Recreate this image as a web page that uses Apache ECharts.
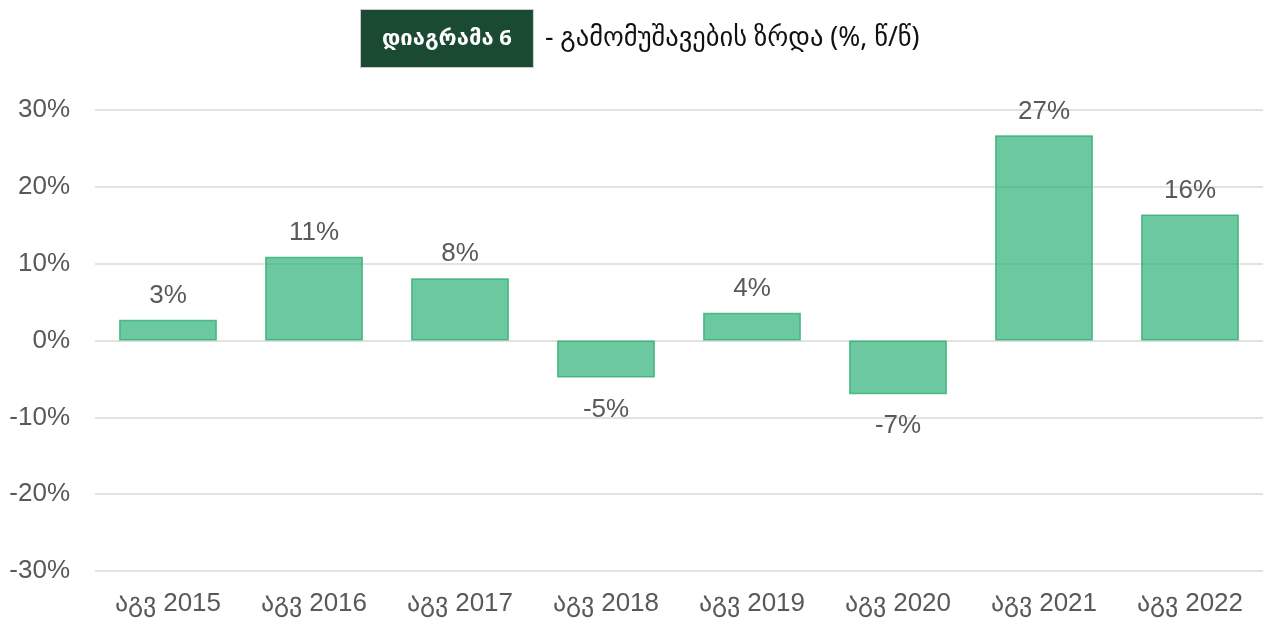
<!DOCTYPE html>
<html><head><meta charset="utf-8">
<script src="https://cdn.jsdelivr.net/npm/echarts@6/dist/echarts.min.js"></script>
<style>html,body{margin:0;padding:0;background:#fff}#c{width:1263px;height:620px}</style>
</head><body><div id="c"></div>
<script>
const categories = ['აგვ 2015','აგვ 2016','აგვ 2017','აგვ 2018','აგვ 2019','აგვ 2020','აგვ 2021','აგვ 2022'];
const values = [2.7, 10.9, 8.1, -4.8, 3.6, -7.0, 26.7, 16.4];
const yTicks = {min: -30, max: 30, interval: 10};
const titleBox = 'დიაგრამა 6';
const titleText = '- გამომუშავების ზრდა (%, წ/წ)';

const chart = echarts.init(document.getElementById('c'));
chart.setOption({
  backgroundColor: '#fff',
  animation: false,
  title: {
    left: 361, top: 10,
    padding: 0,
    text: '{box|' + titleBox + '}{t|' + titleText + '}',
    textStyle: {
      rich: {
        box: {
          backgroundColor: '#1a4a32', color: '#fff', fontSize: 22, fontWeight: 'bold',
          fontFamily: 'Noto Sans, DejaVu Sans, sans-serif',
          borderColor: '#c8c8c8', borderWidth: 1,
          padding: [16, 21, 15, 21], height: 26
        },
        t: {
          color: '#111', fontSize: 26.5, fontWeight: 'normal', fontFamily: 'Noto Sans, DejaVu Sans, sans-serif',
          padding: [0, 0, 0, 12]
        }
      }
    }
  },
  grid: {left: 95, right: 0, top: 110, bottom: 49, containLabel: false},
  xAxis: {
    type: 'category', data: categories,
    axisLine: {show: false}, axisTick: {show: false},
    axisLabel: {color: '#595959', fontSize: 26, fontFamily: 'Liberation Sans, Arial, sans-serif', margin: 20, interval: 0}
  },
  yAxis: {
    type: 'value', min: yTicks.min, max: yTicks.max, interval: yTicks.interval,
    axisLine: {show: false}, axisTick: {show: false},
    splitLine: {lineStyle: {color: '#d9d9d9', width: 1.5}},
    axisLabel: {color: '#595959', fontSize: 26, fontFamily: 'Liberation Sans, Arial, sans-serif', margin: 25,
      formatter: v => v + '%'}
  },
  series: [{
    type: 'bar', barWidth: '67%',
    data: values.map(v => v < 0 ? {value: v, label: {position: 'bottom', distance: 19}} : v),
    itemStyle: {color: 'rgba(46,178,118,0.7)', borderColor: 'rgba(40,170,110,0.75)', borderWidth: 1.5},
    label: {
      show: true, position: 'top', distance: 11,
      color: '#595959', fontSize: 26, fontFamily: 'Liberation Sans, Arial, sans-serif',
      formatter: p => Math.round(p.value) + '%'
    }
  }]
});
</script></body></html>
